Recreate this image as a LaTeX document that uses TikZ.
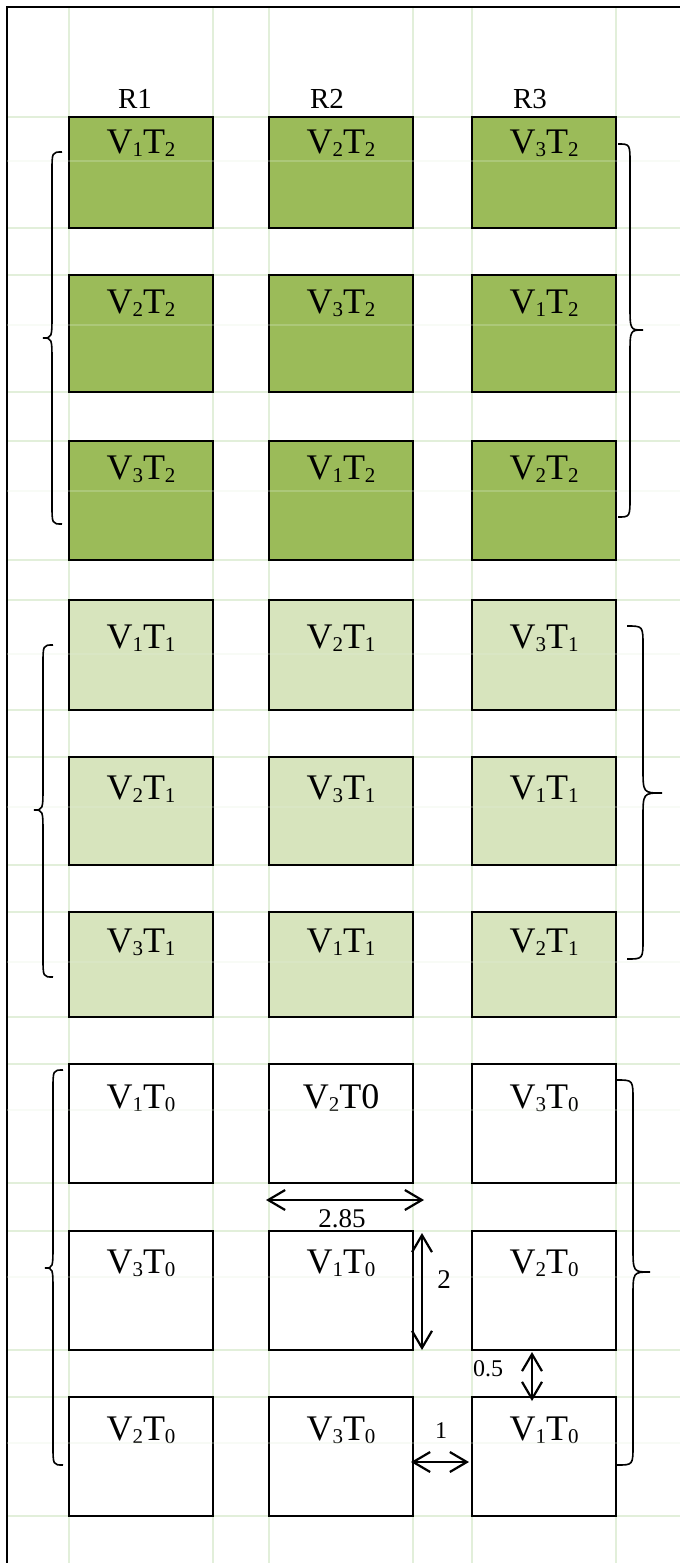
\documentclass[tikz,border=0pt]{standalone}
\usepackage{fontspec}
\setmainfont{Liberation Serif}
\usetikzlibrary{arrows.meta}
\definecolor{gridc}{RGB}{226,239,218}
\definecolor{dkgreen}{RGB}{155,187,89}
\definecolor{ltgreen}{RGB}{215,228,189}
\newcommand\subs[1]{\raisebox{-3pt}{\fontsize{21}{24}\selectfont #1}}
\newcommand\drawcurly[6]{%
  \draw[bracestyle] (#1,#4) .. controls (#2,#4) .. (#2,#4+20) -- (#2,#5-25)
    .. controls (#2,#5) .. (#3,#5) .. controls (#2,#5) .. (#2,#5+25)
    -- (#2,#6-20) .. controls (#2,#6) .. (#1,#6);}
\tikzset{
  gridline/.style={draw=gridc, line width=2.2pt},
  faintline/.style={draw=gridc, line width=1.5pt, opacity=0.25},
  frameline/.style={draw=black, line width=2.4pt},
  cell/.style={draw=black, line width=2.2pt, inner sep=0pt, minimum width=144pt},
  celltext/.style={anchor=base, font=\fontsize{36}{40}\selectfont, inner sep=0pt},
  rlabel/.style={anchor=base, font=\fontsize{29}{33}\selectfont, inner sep=0pt},
  dimlabel/.style={font=\fontsize{27}{30}\selectfont, inner sep=0pt},
  smalldim/.style={font=\fontsize{24}{28}\selectfont, inner sep=0pt},
  dimarrow/.style={line width=2.2pt, {Straight Barb[length=17pt,width=20pt]}-{Straight Barb[length=17pt,width=20pt]}},
  bracestyle/.style={draw=black, line width=1.6pt}
}
\begin{document}
\begin{tikzpicture}[x=1pt,y=-1pt]
\useasboundingbox (0,0) rectangle (680,1563);
% grid
\foreach \gx in {69,213,269,413,472,616}{
  \draw[gridline] (\gx,7) -- (\gx,1563);}
\foreach \gy in {117,228,275,392,441,560,600,710,757,865,912,1017,1064,1183,1231,1350,1397,1516}{
  \draw[gridline] (7,\gy) -- (680,\gy);}
% frame
\draw[frameline] (7,1563) -- (7,7) -- (680,7);
% column labels
\node[rlabel] (r1) at (135,108) {R1};
\node[rlabel] (r2) at (327,108) {R2};
\node[rlabel] (r3) at (530,108) {R3};
% cells
\foreach \row/\top/\bot/\off/\col/\ta/\tb/\tc in {
  1/117/228/36/dkgreen/V\subs{1}T\subs{2}/V\subs{2}T\subs{2}/V\subs{3}T\subs{2},
  2/275/392/38/dkgreen/V\subs{2}T\subs{2}/V\subs{3}T\subs{2}/V\subs{1}T\subs{2},
  3/441/560/38/dkgreen/V\subs{3}T\subs{2}/V\subs{1}T\subs{2}/V\subs{2}T\subs{2},
  4/600/710/48/ltgreen/V\subs{1}T\subs{1}/V\subs{2}T\subs{1}/V\subs{3}T\subs{1},
  5/757/865/42/ltgreen/V\subs{2}T\subs{1}/V\subs{3}T\subs{1}/V\subs{1}T\subs{1},
  6/912/1017/40/ltgreen/V\subs{3}T\subs{1}/V\subs{1}T\subs{1}/V\subs{2}T\subs{1},
  7/1064/1183/44/white/V\subs{1}T\subs{0}/V\subs{2}T0/V\subs{3}T\subs{0},
  8/1231/1350/42/white/V\subs{3}T\subs{0}/V\subs{1}T\subs{0}/V\subs{2}T\subs{0},
  9/1397/1516/43/white/V\subs{2}T\subs{0}/V\subs{3}T\subs{0}/V\subs{1}T\subs{0}}{
  \node[cell, fill=\col, minimum height=\bot-\top] (c\row a) at (141,{(\top+\bot)/2}) {};
  \node[cell, fill=\col, minimum height=\bot-\top] (c\row b) at (341,{(\top+\bot)/2}) {};
  \node[cell, fill=\col, minimum height=\bot-\top] (c\row c) at (544,{(\top+\bot)/2}) {};
  \node[celltext] (t\row a) at (141,\top+\off) {\ta};
  \node[celltext] (t\row b) at (341,\top+\off) {\tb};
  \node[celltext] (t\row c) at (544,\top+\off) {\tc};
}
% faint inner grid lines
\foreach \gy in {161,325,491,654,807,962,1110,1277,1443}{
  \draw[faintline] (7,\gy) -- (680,\gy);}
% braces
\drawcurly{62}{52}{43}{152}{338}{524}
\drawcurly{53}{43}{34}{645}{810}{977}
\drawcurly{63}{53}{45}{1070}{1268}{1465}
\drawcurly{618}{630}{643}{144}{330}{517}
\drawcurly{627}{643}{662}{626}{793}{959}
\drawcurly{617}{633}{650}{1080}{1272}{1465}
% dimension arrows
\coordinate (wA) at (266,1200);
\coordinate (wB) at (424,1200);
\coordinate (hA) at (422,1233);
\coordinate (hB) at (422,1350);
\coordinate (gA) at (532,1352);
\coordinate (gB) at (532,1401);
\coordinate (sA) at (411,1462);
\coordinate (sB) at (469,1462);
\draw[dimarrow] (wA) -- (wB);
\draw[dimarrow] (hA) -- (hB);
\draw[dimarrow] (gA) -- (gB);
\draw[dimarrow] (sA) -- (sB);
\node[dimlabel] (lw) at (342,1219) {2.85};
\node[dimlabel] (lh) at (444,1280) {2};
\node[smalldim] (lg) at (488,1369) {0.5};
\node[smalldim] (ls) at (441,1431) {1};
\end{tikzpicture}
\end{document}
